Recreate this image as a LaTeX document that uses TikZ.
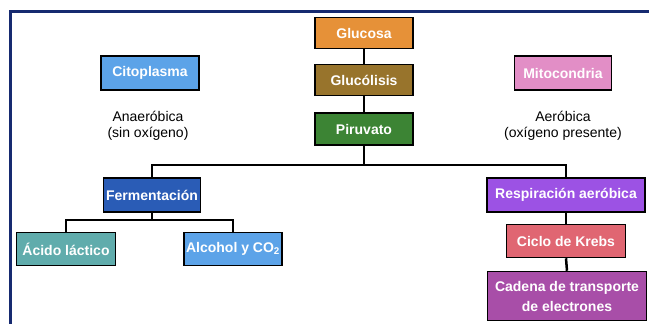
\documentclass[tikz,border=0pt]{standalone}
\usepackage{fontspec}
\setmainfont{Liberation Sans}
\usepackage{xcolor}
\usepackage{tikz}
\usetikzlibrary{positioning, calc}
\definecolor{framenavy}{RGB}{22, 42, 112}
\definecolor{glucosaorange}{RGB}{230, 145, 56}
\definecolor{glucolisisbrown}{RGB}{152, 116, 44}
\definecolor{piruvatogreen}{RGB}{60, 132, 52}
\definecolor{citoblue}{RGB}{92, 163, 232}
\definecolor{mitopink}{RGB}{226, 142, 198}
\definecolor{fermblue}{RGB}{42, 92, 182}
\definecolor{acidoteal}{RGB}{96, 172, 172}
\definecolor{respurple}{RGB}{156, 82, 228}
\definecolor{krebsred}{RGB}{224, 102, 114}
\definecolor{cadenaviolet}{RGB}{168, 78, 168}

\tikzset{
    box/.style={draw=black, line width=1.5pt, text=white, align=center,
        font=\fontsize{14}{20}\selectfont\bfseries, inner sep=0pt},
    link/.style={draw=black, line width=2.5pt}
}

\begin{document}
\begin{tikzpicture}[x=1pt, y=-1pt]
    \useasboundingbox (0,0) rectangle (649,324);

    % Frame
    \draw[framenavy, line width=3pt] (10,340) -- (10,11.5) -- (660,11.5);

    % Main chain
    \node[box, fill=glucosaorange, minimum width=98pt, minimum height=31pt] (glucosa) at (364,33) {Glucosa};
    \node[box, fill=glucolisisbrown, minimum width=98pt, minimum height=31pt] (glucolisis) at (364,80) {Glucólisis};
    \node[box, fill=piruvatogreen, minimum width=98pt, minimum height=32pt] (piruvato) at (364,129) {Piruvato};

    % Places
    \node[box, fill=citoblue, minimum width=98pt, minimum height=34pt] (citoplasma) at (150,73) {Citoplasma};
    \node[box, fill=mitopink, minimum width=97pt, minimum height=34pt] (mitocondria) at (563,73) {Mitocondria};
    \node[align=center, font=\fontsize{14}{16}\selectfont] (anaerobica) at (148,126) {Anaeróbica\\(sin oxígeno)};
    \node[align=center, font=\fontsize{14}{16}\selectfont] (aerobica) at (563,126) {Aeróbica\\(oxígeno presente)};

    % Anaerobic side
    \node[box, fill=fermblue, minimum width=97pt, minimum height=34pt] (fermentacion) at (152,195) {Fermentación};
    \node[box, fill=acidoteal, minimum width=99pt, minimum height=33pt] (acido) at (66,249) {Ácido láctico};
    \node[box, fill=citoblue, minimum width=98pt, minimum height=33pt] (alcohol) at (233,249) {Alcohol y CO\textsubscript{2}};

    % Aerobic side
    \node[box, fill=respurple, minimum width=158pt, minimum height=34pt] (respiracion) at (566,195) {Respiración aeróbica};
    \node[box, fill=krebsred, minimum width=119pt, minimum height=33pt] (krebs) at (566,241) {Ciclo de Krebs};
    \node[box, fill=cadenaviolet, minimum width=159pt, minimum height=49pt] (cadena) at (567,296) {Cadena de transporte\\de electrones};

    % Links
    \coordinate (split) at (364,165);
    \coordinate (fermsplit) at (152,220);
    \foreach \a/\b in {glucosa/glucolisis, glucolisis/piruvato, respiracion/krebs, krebs/cadena} {
        \draw[link] (\a.south) -- (\b.north);
    }
    \draw[link] (piruvato.south) -- (split);
    \draw[link] (split) -| (fermentacion.north);
    \draw[link] (split) -| (respiracion.north);
    \draw[link] (fermentacion.south) -- (fermsplit);
    \draw[link] (fermsplit) -| (acido.north);
    \draw[link] (fermsplit) -| (alcohol.north);
\end{tikzpicture}
\end{document}
